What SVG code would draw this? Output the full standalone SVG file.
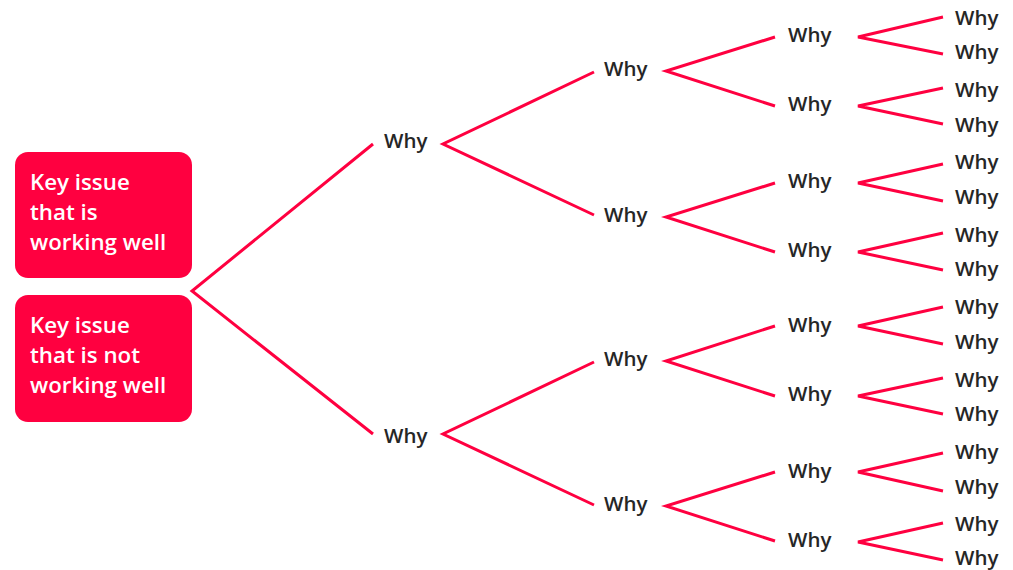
<svg xmlns="http://www.w3.org/2000/svg" width="1013" height="570" viewBox="0 0 1013 570">
<style>
.box{fill:#ff0040}
.bt{font-family:"Open Sans","Liberation Sans",sans-serif;font-size:22.3px;font-weight:600;fill:#ffffff}
.w{font-family:"Open Sans","Liberation Sans",sans-serif;font-size:20.5px;font-weight:600;fill:#262626}
.c{fill:none;stroke:#ff0040;stroke-width:3;stroke-linejoin:miter}
</style>
<rect width="1013" height="570" fill="#ffffff"/>
<g id="root1"><rect class="box" x="15" y="152" width="177" height="126" rx="13"/>
<text class="bt" x="30"><tspan x="30" y="190">Key issue</tspan><tspan x="30" y="220">that is</tspan><tspan x="30" y="250">working well</tspan></text></g>
<g id="root2"><rect class="box" x="15" y="295" width="177" height="127" rx="13"/>
<text class="bt" x="30"><tspan x="30" y="333">Key issue</tspan><tspan x="30" y="363">that is not</tspan><tspan x="30" y="393">working well</tspan></text></g>
<g id="connectors">
<polyline class="c" points="373,144 192,291 373,434"/>
<polyline class="c" points="594,72 443,144 594,215"/>
<polyline class="c" points="594,362 443,434 594,505"/>
<polyline class="c" points="775,37 666,71 775,106"/>
<polyline class="c" points="775,183 666,217 775,252"/>
<polyline class="c" points="775,326 666,361 775,396"/>
<polyline class="c" points="775,472 666,506 775,541"/>
<polyline class="c" points="943,17 858,37 943,54"/>
<polyline class="c" points="943,88 858,106 943,124"/>
<polyline class="c" points="943,164 858,183 943,201"/>
<polyline class="c" points="943,233 858,252 943,270"/>
<polyline class="c" points="943,307 858,326 943,344"/>
<polyline class="c" points="943,378 858,396 943,414"/>
<polyline class="c" points="943,453 858,472 943,491"/>
<polyline class="c" points="943,523 858,542 943,560"/>
</g>
<g id="l1a"><text class="w" x="384" y="148">Why</text></g>
<g id="l1b"><text class="w" x="384" y="443">Why</text></g>
<g id="l2a"><text class="w" x="604" y="76">Why</text></g>
<g id="l2b"><text class="w" x="604" y="222">Why</text></g>
<g id="l2c"><text class="w" x="604" y="366">Why</text></g>
<g id="l2d"><text class="w" x="604" y="511">Why</text></g>
<g id="l3a"><text class="w" x="788" y="42">Why</text></g>
<g id="l3b"><text class="w" x="788" y="111">Why</text></g>
<g id="l3c"><text class="w" x="788" y="188">Why</text></g>
<g id="l3d"><text class="w" x="788" y="257">Why</text></g>
<g id="l3e"><text class="w" x="788" y="332">Why</text></g>
<g id="l3f"><text class="w" x="788" y="401">Why</text></g>
<g id="l3g"><text class="w" x="788" y="478">Why</text></g>
<g id="l3h"><text class="w" x="788" y="547">Why</text></g>
<g id="l4a"><text class="w" x="955" y="25">Why</text></g>
<g id="l4b"><text class="w" x="955" y="59">Why</text></g>
<g id="l4c"><text class="w" x="955" y="97">Why</text></g>
<g id="l4d"><text class="w" x="955" y="132">Why</text></g>
<g id="l4e"><text class="w" x="955" y="169">Why</text></g>
<g id="l4f"><text class="w" x="955" y="204">Why</text></g>
<g id="l4g"><text class="w" x="955" y="242">Why</text></g>
<g id="l4h"><text class="w" x="955" y="276">Why</text></g>
<g id="l4i"><text class="w" x="955" y="314">Why</text></g>
<g id="l4j"><text class="w" x="955" y="349">Why</text></g>
<g id="l4k"><text class="w" x="955" y="387">Why</text></g>
<g id="l4l"><text class="w" x="955" y="421">Why</text></g>
<g id="l4m"><text class="w" x="955" y="459">Why</text></g>
<g id="l4n"><text class="w" x="955" y="494">Why</text></g>
<g id="l4o"><text class="w" x="955" y="531">Why</text></g>
<g id="l4p"><text class="w" x="955" y="565">Why</text></g>
</svg>
